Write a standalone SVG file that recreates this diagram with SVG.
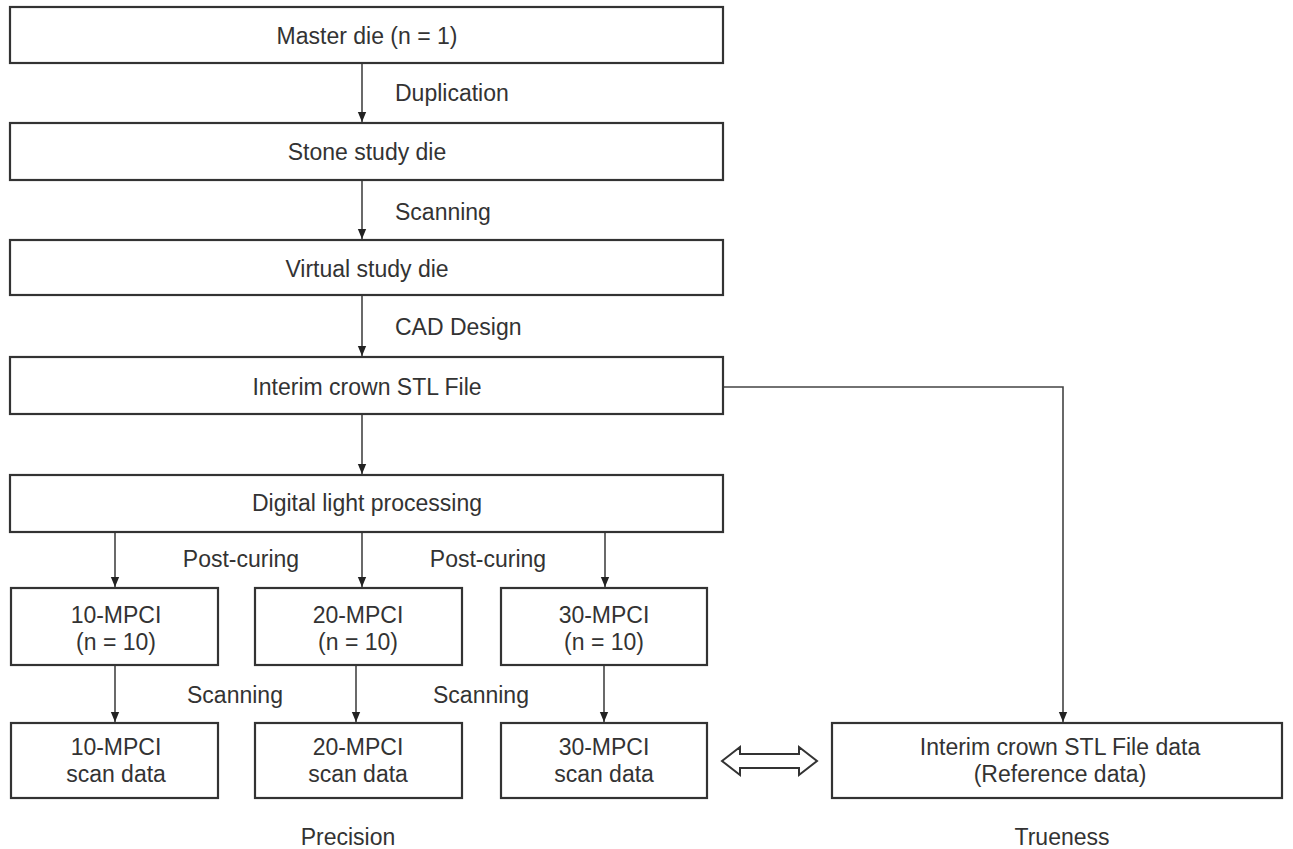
<svg xmlns="http://www.w3.org/2000/svg" width="1293" height="849" viewBox="0 0 1293 849">
<defs>
<style>
.box{fill:#fff;stroke:#333;stroke-width:2.2}
.t{font-family:"Liberation Sans",Arial,sans-serif;font-size:23px;fill:#333;text-anchor:middle;dominant-baseline:central}
.lb{font-family:"Liberation Sans",Arial,sans-serif;font-size:23px;fill:#333;dominant-baseline:central}
.c{fill:none;stroke:#444;stroke-width:1.6}
</style>
<marker id="ah" viewBox="0 0 12 10" refX="12" refY="5" markerWidth="10" markerHeight="12" markerUnits="userSpaceOnUse" orient="auto">
<path d="M0,0 L12,5 L0,10 Z" fill="#222"/>
</marker>
</defs>
<rect width="1293" height="849" fill="#fff"/>
<g id="connectors">
<line class="c" x1="362" y1="63" x2="362" y2="122" marker-end="url(#ah)"/>
<line class="c" x1="362" y1="180" x2="362" y2="239" marker-end="url(#ah)"/>
<line class="c" x1="362" y1="295" x2="362" y2="356" marker-end="url(#ah)"/>
<line class="c" x1="362" y1="414" x2="362" y2="474" marker-end="url(#ah)"/>
<polyline class="c" points="723,387 1063,387 1063,722" marker-end="url(#ah)"/>
<line class="c" x1="115" y1="532" x2="115" y2="587" marker-end="url(#ah)"/>
<line class="c" x1="362" y1="532" x2="362" y2="587" marker-end="url(#ah)"/>
<line class="c" x1="605" y1="532" x2="605" y2="587" marker-end="url(#ah)"/>
<line class="c" x1="115" y1="665" x2="115" y2="722" marker-end="url(#ah)"/>
<line class="c" x1="356" y1="665" x2="356" y2="722" marker-end="url(#ah)"/>
<line class="c" x1="604" y1="665" x2="604" y2="722" marker-end="url(#ah)"/>
<polygon points="722,761 740,747 740,754 799,754 799,747 817,761 799,775 799,768 740,768 740,775" fill="#fff" stroke="#333" stroke-width="2"/>
</g>
<g id="labels">
<text class="lb" x="395" y="93">Duplication</text>
<text class="lb" x="395" y="212">Scanning</text>
<text class="lb" x="395" y="327">CAD Design</text>
<text class="t" x="241" y="559">Post-curing</text>
<text class="t" x="488" y="559">Post-curing</text>
<text class="t" x="235" y="695">Scanning</text>
<text class="t" x="481" y="695">Scanning</text>
<text class="t" x="348" y="837">Precision</text>
<text class="t" x="1062" y="837">Trueness</text>
</g>
<g id="master"><rect class="box" x="10" y="7" width="713" height="56"/><text class="t" x="367" y="36">Master die (n = 1)</text></g>
<g id="stone"><rect class="box" x="10" y="123" width="713" height="57"/><text class="t" x="367" y="152">Stone study die</text></g>
<g id="virtual"><rect class="box" x="10" y="240" width="713" height="55"/><text class="t" x="367" y="269">Virtual study die</text></g>
<g id="stl"><rect class="box" x="10" y="357" width="713" height="57"/><text class="t" x="367" y="387">Interim crown STL File</text></g>
<g id="dlp"><rect class="box" x="10" y="475" width="713" height="57"/><text class="t" x="367" y="503">Digital light processing</text></g>
<g id="m10"><rect class="box" x="11" y="588" width="207" height="77"/><text class="t" x="116" y="615">10-MPCI</text><text class="t" x="116" y="642">(n = 10)</text></g>
<g id="m20"><rect class="box" x="255" y="588" width="207" height="77"/><text class="t" x="358" y="615">20-MPCI</text><text class="t" x="358" y="642">(n = 10)</text></g>
<g id="m30"><rect class="box" x="501" y="588" width="206" height="77"/><text class="t" x="604" y="615">30-MPCI</text><text class="t" x="604" y="642">(n = 10)</text></g>
<g id="s10"><rect class="box" x="11" y="723" width="207" height="75"/><text class="t" x="116" y="747">10-MPCI</text><text class="t" x="116" y="774">scan data</text></g>
<g id="s20"><rect class="box" x="255" y="723" width="207" height="75"/><text class="t" x="358" y="747">20-MPCI</text><text class="t" x="358" y="774">scan data</text></g>
<g id="s30"><rect class="box" x="501" y="723" width="206" height="75"/><text class="t" x="604" y="747">30-MPCI</text><text class="t" x="604" y="774">scan data</text></g>
<g id="ref"><rect class="box" x="832" y="723" width="450" height="75"/><text class="t" x="1060" y="747">Interim crown STL File data</text><text class="t" x="1060" y="774">(Reference data)</text></g>
</svg>
